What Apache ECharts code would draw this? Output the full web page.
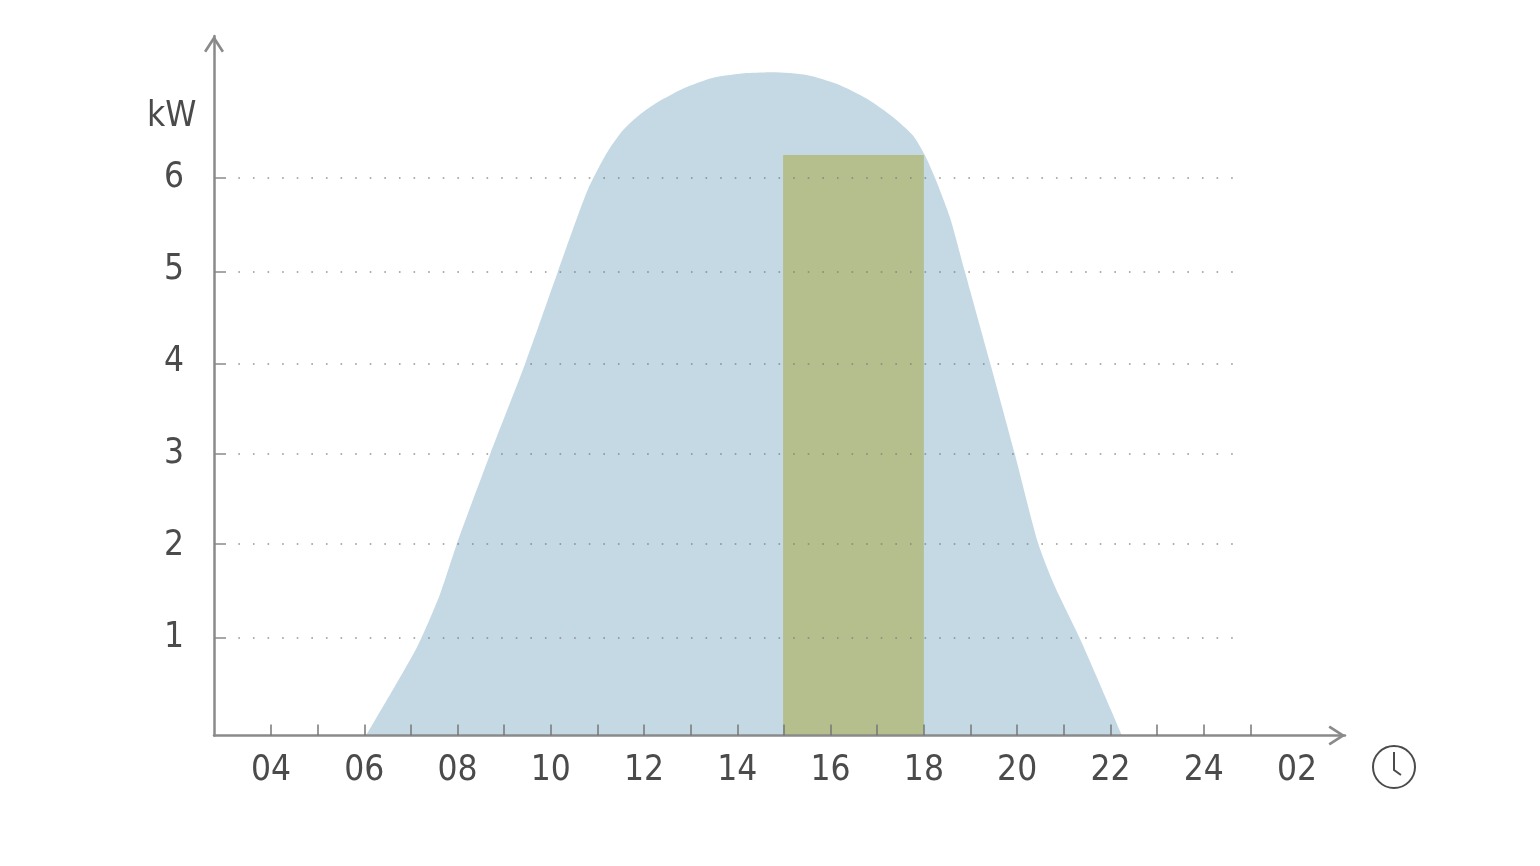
<!DOCTYPE html>
<html><head><meta charset="utf-8">
<style>html,body{margin:0;padding:0;background:#fff}#c{width:1540px;height:866px}</style>
<script src="https://cdn.jsdelivr.net/npm/echarts@6/dist/echarts.min.js"></script>
</head><body><div id="c"></div>
<script>
const hours = [6.04,7.13,7.62,7.99,8.70,9.45,10.15,10.48,10.80,11.20,11.55,11.91,12.28,12.83,13.48,14.21,14.76,15.49,16.14,16.78,17.34,17.77,18.02,18.24,18.56,18.88,19.42,19.95,20.45,20.81,21.35,22.25];
const power = [-0.06,0.90,1.47,2.03,3.00,3.98,4.98,5.45,5.88,6.27,6.52,6.69,6.82,6.97,7.09,7.14,7.15,7.12,7.02,6.86,6.66,6.46,6.25,6.00,5.57,4.98,3.99,3.00,2.03,1.56,0.99,-0.06];
const blockHours = [14.98,18];
const blockPower = [6.25,6.25];
const xTicks = [4,5,6,7,8,9,10,11,12,13,14,15,16,17,18,19,20,21,22,23,24,25];
const xLabelValues = [4,6,8,10,12,14,16,18,20,22,24,26];
const xLabelTexts = ['04','06','08','10','12','14','16','18','20','22','24','02'];
const yLabelValues = [1,2,3,4,5,6];
const yGridValues = [1,2.02,3,3.98,4.98,6];

const AXIS='#8a8a8a', TXT='#4b4b4b', FONT='"DejaVu Sans Condensed","Liberation Sans",sans-serif';
const arrow='path://M0 14L9 0L18 14L16 15.3L9 4.4L2 15.3Z';
const axisLine={onZero:false,lineStyle:{color:AXIS,width:2.5},symbol:['none',arrow],symbolSize:[20,17],symbolOffset:[0,-8]};
const chart=echarts.init(document.getElementById('c'),null,{renderer:'canvas'});
chart.setOption({
  animation:false,
  backgroundColor:'#fff',
  grid:{left:214,right:195,top:36,bottom:130.5},
  xAxis:{type:'value',min:2.778,max:27.03,z:6,
    splitLine:{show:false},
    axisLine:axisLine,
    axisTick:{inside:true,length:11,lineStyle:{color:'#777',width:1.5},customValues:xTicks},
    axisLabel:{customValues:xLabelValues,margin:18,fontFamily:FONT,fontSize:35,color:TXT,
      formatter:v=>xLabelTexts[xLabelValues.indexOf(v)]}
  },
  yAxis:{type:'value',min:-0.06,max:7.543,z:6,
    splitLine:{show:false},
    axisLine:axisLine,
    axisTick:{inside:true,length:12,lineStyle:{color:'#8a8a8a',width:1.5},customValues:yGridValues},
    axisLabel:{customValues:yLabelValues,margin:30,fontFamily:FONT,fontSize:35,color:TXT,verticalAlign:'middle',padding:[0,0,5,0]}
  },
  series:[
    {type:'line',z:2,data:hours.map((h,i)=>[h,power[i]]),smooth:0.22,showSymbol:false,symbol:'none',
      lineStyle:{width:0},areaStyle:{color:'#c4d9e4',opacity:1,origin:'start'},
      markLine:{silent:true,symbol:'none',label:{show:false},z:5,animation:false,
        lineStyle:{color:'rgba(120,120,120,0.8)',width:1.6,type:[1.6,13]},
        data:yGridValues.map(v=>[{coord:[3.3,v]},{coord:[24.65,v]}])}
    },
    {type:'line',z:4,data:blockHours.map((h,i)=>[h,blockPower[i]]),showSymbol:false,symbol:'none',
      lineStyle:{width:0},areaStyle:{color:'#b5bf8e',opacity:1,origin:'start'}}
  ],
  graphic:[
    {type:'text',left:147,top:99,z:10,style:{text:'kW',font:'normal 35px '+FONT,fill:TXT}},
    {type:'circle',z:10,shape:{cx:1394,cy:767,r:21},style:{fill:'none',stroke:'#4b4b4b',lineWidth:2}},
    {type:'polyline',z:10,shape:{points:[[1394,752],[1394,770],[1401,775]]},style:{fill:'none',stroke:'#4b4b4b',lineWidth:2}}
  ]
});
</script></body></html>
